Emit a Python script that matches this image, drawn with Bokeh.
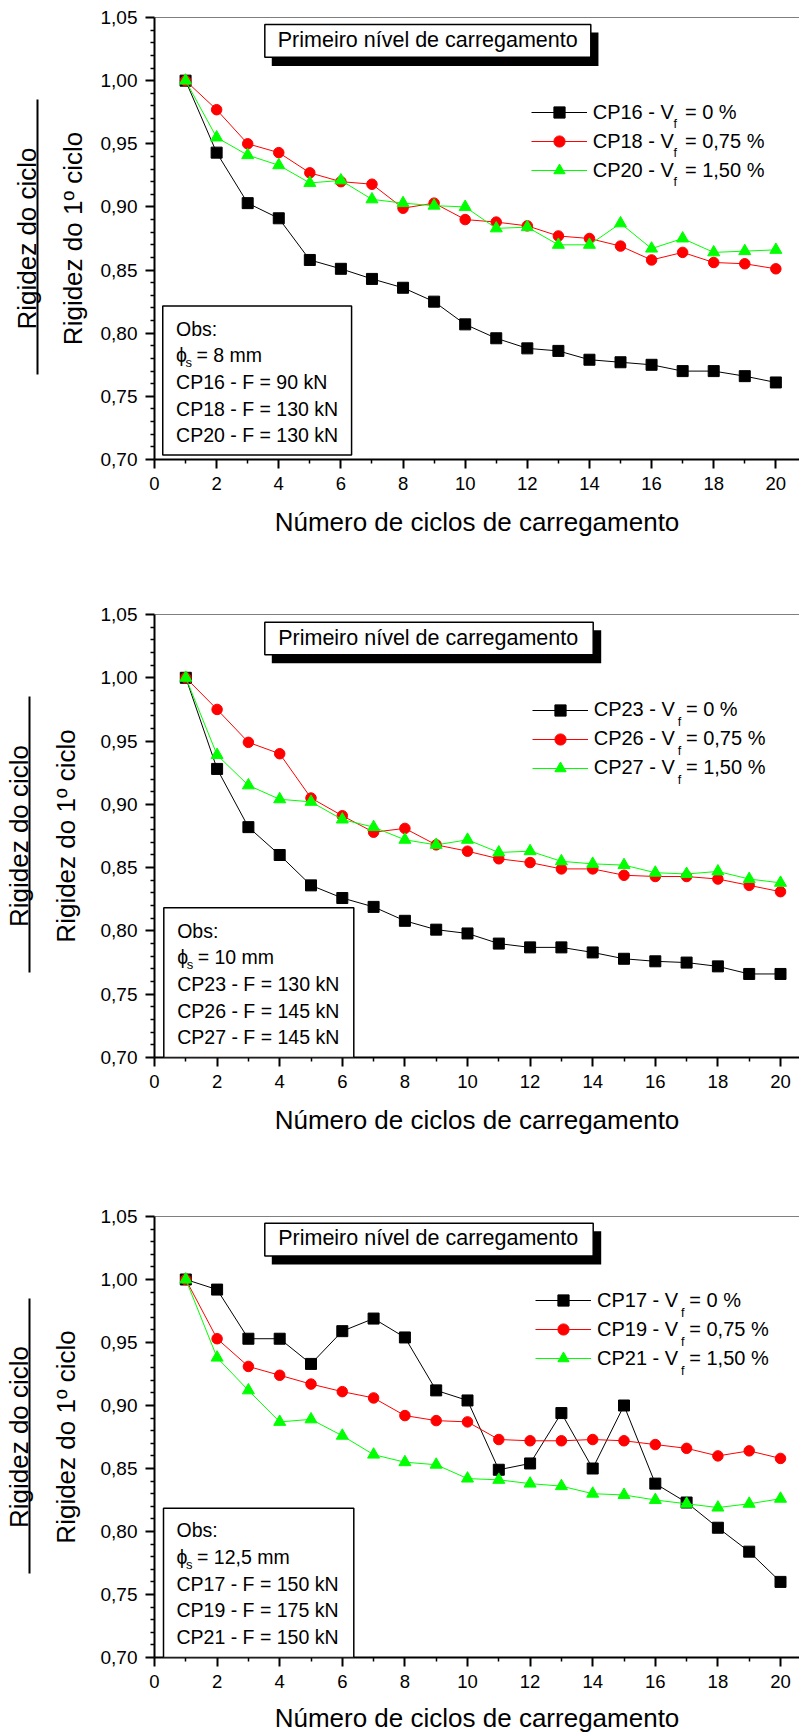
import numpy as np
from bokeh.plotting import figure
from bokeh.models import (LinearAxis, FixedTicker, Span, BoxAnnotation, Label,
                          Legend, LegendItem, Range1d)
from bokeh.layouts import column
from bokeh.embed import file_html
from bokeh.resources import INLINE

# ---------------- data ----------------
cycles = list(range(1, 21))

# panel 1 (phi_s = 8 mm)
cp16 = [1.000, 0.943, 0.903, 0.891, 0.858, 0.851, 0.843, 0.836, 0.825, 0.807,
        0.796, 0.788, 0.786, 0.779, 0.777, 0.775, 0.770, 0.770, 0.766, 0.761]
cp18 = [1.000, 0.977, 0.950, 0.943, 0.927, 0.920, 0.918, 0.899, 0.903, 0.890,
        0.888, 0.885, 0.877, 0.875, 0.869, 0.858, 0.864, 0.856, 0.855, 0.851]
cp20 = [1.000, 0.955, 0.941, 0.933, 0.919, 0.921, 0.906, 0.903, 0.901, 0.900,
        0.883, 0.884, 0.870, 0.870, 0.887, 0.867, 0.875, 0.864, 0.865, 0.866]

# panel 2 (phi_s = 10 mm)
cp23 = [1.000, 0.928, 0.882, 0.860, 0.836, 0.826, 0.819, 0.808, 0.801, 0.798,
        0.790, 0.787, 0.787, 0.783, 0.778, 0.776, 0.775, 0.772, 0.766, 0.766]
cp26 = [1.000, 0.975, 0.949, 0.940, 0.905, 0.891, 0.878, 0.881, 0.868, 0.863,
        0.857, 0.854, 0.849, 0.849, 0.844, 0.843, 0.843, 0.841, 0.836, 0.831]
cp27 = [1.000, 0.939, 0.915, 0.904, 0.902, 0.888, 0.882, 0.872, 0.868, 0.872,
        0.862, 0.863, 0.855, 0.853, 0.852, 0.846, 0.845, 0.847, 0.841, 0.838]

# panel 3 (phi_s = 12,5 mm)
cp17 = [1.000, 0.992, 0.953, 0.953, 0.933, 0.959, 0.969, 0.954, 0.912, 0.904,
        0.849, 0.854, 0.894, 0.850, 0.900, 0.838, 0.823, 0.803, 0.784, 0.760]
cp19 = [1.000, 0.953, 0.931, 0.924, 0.917, 0.911, 0.906, 0.892, 0.888, 0.887,
        0.873, 0.872, 0.872, 0.873, 0.872, 0.869, 0.866, 0.860, 0.864, 0.858]
cp21 = [1.000, 0.938, 0.912, 0.887, 0.889, 0.876, 0.861, 0.855, 0.853, 0.842,
        0.841, 0.838, 0.836, 0.830, 0.829, 0.825, 0.822, 0.819, 0.822, 0.826]

names_1 = ["CP16", "CP18", "CP20"]
names_2 = ["CP23", "CP26", "CP27"]
names_3 = ["CP17", "CP19", "CP21"]
vf_values = ["0", "0,75", "1,50"]

phi_1 = "8 mm"
phi_2 = "10 mm"
phi_3 = "12,5 mm"
forces_1 = ["CP16 - F = 90 kN", "CP18 - F = 130 kN", "CP20 - F = 130 kN"]
forces_2 = ["CP23 - F = 130 kN", "CP26 - F = 145 kN", "CP27 - F = 145 kN"]
forces_3 = ["CP17 - F = 150 kN", "CP19 - F = 175 kN", "CP21 - F = 150 kN"]

x_ticks = [0, 2, 4, 6, 8, 10, 12, 14, 16, 18, 20]
x_tick_labels = ["0", "2", "4", "6", "8", "10", "12", "14", "16", "18", "20"]
x_minor = [1, 3, 5, 7, 9, 11, 13, 15, 17, 19]
y_ticks = [0.70, 0.75, 0.80, 0.85, 0.90, 0.95, 1.00, 1.05]
y_tick_labels = ["0,70", "0,75", "0,80", "0,85", "0,90", "0,95", "1,00", "1,05"]

title_text = "Primeiro nível de carregamento"
x_title = "Número de ciclos de carregamento"
y_title_top = "Rigidez do ciclo"
y_title_bottom = "Rigidez do 1º ciclo"

# ---------------- styles ----------------
FONT = "Liberation Sans"
COLORS = ["black", "#ff0000", "#00ff00"]
MARKERS = ["square", "circle", "triangle"]
SIZES = [11, 10.5, 12]
FIG_W = 799

y_minor = [round(v, 2) for v in np.arange(0.70, 1.0501, 0.01)
           if round(v * 100) % 5 != 0]

geoms = [
    dict(left=150, top=17, bottom=100, height=559, ppx=31.26,
         ylab_so=10, spacer=14, xt_so=14,
         title_box=(111, 7, 439, 39.7), shadow=(118, 15, 446.7, 48.4), title_xy=(124, 22),
         obs_box=(8.3, 288.4, 198.3, 437.5), obs_x=21.7, obs_y0=311,
         leg=(376.7, 81.4)),
    dict(left=154, top=55, bottom=100, height=598, ppx=31.3,
         ylab_so=17, spacer=15, xt_so=14,
         title_box=(110.3, 7.7, 438.7, 40.3), shadow=(117.3, 15.7, 446.7, 48.7), title_xy=(123.7, 23.2),
         obs_box=(9.3, 293.3, 199.3, 443), obs_x=22.7, obs_y0=316,
         leg=(377.7, 81.5)),
    dict(left=154, top=59, bottom=77, height=578, ppx=31.3,
         ylab_so=17, spacer=15, xt_so=12,
         title_box=(110.3, 6.7, 438.7, 39.7), shadow=(117.3, 14.7, 446.7, 48.2), title_xy=(123.7, 22),
         obs_box=(9, 292.3, 199.3, 442), obs_x=22, obs_y0=314.7,
         leg=(381, 71)),
]


def make_panel(g, names, series, phi_text, forces):
    W = FIG_W - g["left"]
    H = g["height"] - g["top"] - g["bottom"]
    xe = W / g["ppx"]
    y0, y1 = y_ticks[0], y_ticks[-1]

    def X(dx):
        return dx / W * xe

    def Y(dy):
        return y1 - dy / H * (y1 - y0)

    p = figure(width=FIG_W, height=g["height"], x_range=Range1d(0, xe),
               y_range=Range1d(y0, y1), output_backend="svg",
               toolbar_location=None, tools="",
               min_border_left=g["left"], min_border_right=0,
               min_border_top=g["top"], min_border_bottom=g["bottom"])
    p.outline_line_color = None
    p.xgrid.visible = False
    p.ygrid.visible = False
    p.background_fill_color = "white"
    p.border_fill_color = "white"

    # x axis
    xa = p.xaxis[0]
    xa.ticker = FixedTicker(ticks=x_ticks, minor_ticks=x_minor)
    xa.major_label_overrides = dict(zip(x_ticks, x_tick_labels))
    xa.major_tick_out = 9
    xa.major_tick_in = 0
    xa.minor_tick_out = 4
    xa.minor_tick_in = 0
    xa.axis_line_width = 2
    xa.major_tick_line_width = 2
    xa.minor_tick_line_width = 1.5
    xa.major_label_standoff = 8
    xa.major_label_text_font = FONT
    xa.major_label_text_font_size = "18.5px"
    xa.major_label_text_color = "black"

    xt = LinearAxis(ticker=FixedTicker(ticks=[]),
                    axis_line_color=None, major_tick_out=0, major_tick_in=0,
                    minor_tick_out=0, minor_tick_in=0, major_label_standoff=0,
                    axis_label=x_title, axis_label_standoff=g["xt_so"],
                    axis_label_text_font=FONT, axis_label_text_font_size="26px",
                    axis_label_text_font_style="normal", axis_label_text_color="black")
    p.add_layout(xt, "below")

    # y axis
    ya = p.yaxis[0]
    ya.ticker = FixedTicker(ticks=y_ticks, minor_ticks=y_minor)
    ya.major_label_overrides = dict(zip(y_ticks, y_tick_labels))
    ya.major_tick_out = 9
    ya.major_tick_in = 0
    ya.minor_tick_out = 4
    ya.minor_tick_in = 0
    ya.axis_line_width = 2
    ya.major_tick_line_width = 2
    ya.minor_tick_line_width = 1.5
    ya.major_label_standoff = 8
    ya.major_label_text_font = FONT
    ya.major_label_text_font_size = "19px"
    ya.major_label_text_color = "black"
    ya.axis_label = y_title_bottom
    ya.axis_label_standoff = g["ylab_so"]
    ya.axis_label_text_font = FONT
    ya.axis_label_text_font_size = "26px"
    ya.axis_label_text_font_style = "normal"
    ya.axis_label_text_color = "black"

    # blank spacer between the two title lines (width = standoff of a blank tick label)
    sp = LinearAxis(ticker=FixedTicker(ticks=[0.9]), axis_line_color=None,
                    major_tick_out=0, major_tick_in=0, major_tick_line_color=None,
                    minor_tick_out=0, minor_tick_in=0,
                    major_label_overrides={0.9: "\u00a0"},
                    major_label_text_font_size="1px", major_label_text_color="white",
                    major_label_standoff=g["spacer"])
    p.add_layout(sp, "left")
    bar = LinearAxis(ticker=FixedTicker(ticks=[]), bounds=(0.767, 0.985),
                     axis_line_width=2, axis_line_color="black",
                     major_tick_out=0, major_tick_in=0, minor_tick_out=0,
                     minor_tick_in=0, major_label_standoff=0,
                     axis_label=y_title_top, axis_label_standoff=-4,
                     axis_label_text_font=FONT, axis_label_text_font_size="26px",
                     axis_label_text_font_style="normal", axis_label_text_color="black")
    p.add_layout(bar, "left")

    p.add_layout(Span(location=y1, dimension="width", line_color="black", line_width=1))

    # data
    items = []
    for name, vf, vals, c, m, s in zip(names, vf_values, series, COLORS, MARKERS, SIZES):
        rl = p.line(cycles, vals, line_color=c, line_width=1)
        rs = p.scatter(cycles, vals, marker=m, size=s, fill_color=c, line_color=c)
        items.append(LegendItem(label=f"{name} - V\u00a0\u00a0= {vf} %", renderers=[rl, rs]))

    lx, ltop = g["leg"]
    leg_h = 3 * 28 + 2 * 1
    leg = Legend(items=items, location=(lx, H - ltop - leg_h), padding=0, spacing=1,
                 margin=0, glyph_width=56, glyph_height=28, label_standoff=6,
                 label_height=28, label_text_font=FONT, label_text_font_size="20px",
                 label_text_color="black", border_line_color=None,
                 background_fill_alpha=0)
    p.add_layout(leg)
    for i in range(3):
        rc = ltop + 14 + i * 29
        p.add_layout(Label(x=X(lx + 145.5), y=Y(rc + 11.5), text="f", text_font=FONT,
                           text_font_size="12.5px", text_color="black",
                           text_align="left", text_baseline="alphabetic"))

    # title box with shadow
    l, t, r, b = g["shadow"]
    p.add_layout(BoxAnnotation(left=X(l), right=X(r), top=Y(t), bottom=Y(b),
                               fill_color="black", fill_alpha=1, line_color=None))
    l, t, r, b = g["title_box"]
    p.add_layout(BoxAnnotation(left=X(l), right=X(r), top=Y(t), bottom=Y(b),
                               fill_color="white", fill_alpha=1, line_color="black",
                               line_alpha=1, line_width=1.5))
    tx, ty = g["title_xy"]
    p.add_layout(Label(x=X(tx), y=Y(ty), text=title_text, text_font=FONT,
                       text_font_size="21.5px", text_color="black",
                       text_align="left", text_baseline="middle"))

    # Obs box
    l, t, r, b = g["obs_box"]
    p.add_layout(BoxAnnotation(left=X(l), right=X(r), top=Y(t), bottom=Y(b),
                               fill_color="white", fill_alpha=1, line_color="black",
                               line_alpha=1, line_width=1.5))
    ox, oy = g["obs_x"], g["obs_y0"]
    pitch = 26.7
    rows = [(0, "Obs:")] + [(2 + k, f) for k, f in enumerate(forces)]
    for k, txt in rows:
        p.add_layout(Label(x=X(ox), y=Y(oy + k * pitch), text=txt, text_font=FONT,
                           text_font_size="19.5px", text_color="black",
                           text_align="left", text_baseline="middle"))
    yl = oy + pitch
    p.add_layout(Label(x=X(ox), y=Y(yl), text="ϕ", text_font=FONT,
                       text_font_size="19.5px", text_color="black",
                       text_align="left", text_baseline="middle"))
    p.add_layout(Label(x=X(ox + 9.5), y=Y(yl + 7), text="s", text_font=FONT,
                       text_font_size="13px", text_color="black",
                       text_align="left", text_baseline="middle"))
    p.add_layout(Label(x=X(ox + 20.5), y=Y(yl), text=f"= {phi_text}", text_font=FONT,
                       text_font_size="19.5px", text_color="black",
                       text_align="left", text_baseline="middle"))
    return p


p1 = make_panel(geoms[0], names_1, [cp16, cp18, cp20], phi_1, forces_1)
p2 = make_panel(geoms[1], names_2, [cp23, cp26, cp27], phi_2, forces_2)
p3 = make_panel(geoms[2], names_3, [cp17, cp19, cp21], phi_3, forces_3)

layout = column(p1, p2, p3, spacing=0)
open("out.html", "w").write(file_html(layout, INLINE))
